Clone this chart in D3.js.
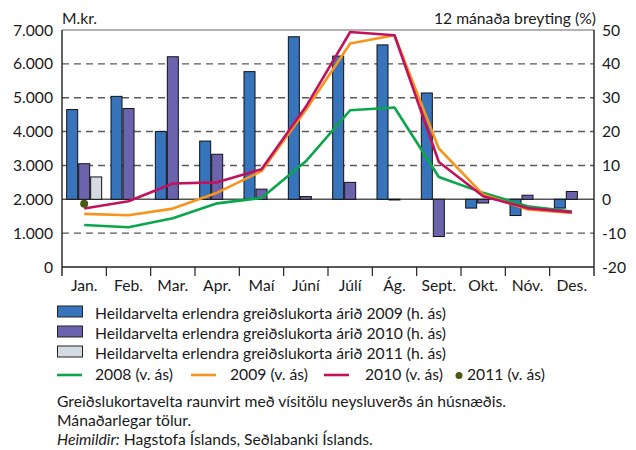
<!DOCTYPE html>
<html>
<head>
<meta charset="utf-8">
<script src="https://cdnjs.cloudflare.com/ajax/libs/d3/7.8.5/d3.min.js"></script>
<style>
  body { margin: 0; background: #fff; }
  svg text { font-family: Lato, "Open Sans", sans-serif; fill: #1a1a1a; font-size: 15.7px; }
</style>
</head>
<body>
<svg id="chart" width="636" height="450"></svg>
<script>
// DATA
const months = ["Jan.", "Feb.", "Mar.", "Apr.", "Maí", "Júní", "Júlí", "Ág.", "Sept.", "Okt.", "Nóv.", "Des."];

// bars: 12 mánaða breyting (%), right axis
const cards2009 = [26.5, 30.4, 20.0, 17.2, 37.7, 48.0, 42.3, 45.6, 31.4, -2.6, -4.8, -2.6];
const cards2010 = [10.5, 26.8, 42.1, 13.3, 3.0, 0.8, 5.0, -0.2, -11.0, -1.1, 1.2, 2.3];
const cards2011 = [6.6];

// lines: M.kr., left axis
const turnover2008 = [1240, 1175, 1440, 1880, 2040, 3120, 4630, 4710, 2660, 2190, 1795, 1640];
const turnover2009 = [1570, 1530, 1725, 2195, 2830, 4640, 6600, 6845, 3500, 2140, 1700, 1600];
const turnover2010 = [1730, 1940, 2465, 2500, 2890, 4730, 6940, 6845, 3100, 2090, 1740, 1620];
const turnover2011 = [1870];

const leftTicks = [0, 1000, 2000, 3000, 4000, 5000, 6000, 7000];
const rightTicks = [-20, -10, 0, 10, 20, 30, 40, 50];

// DIMENSIONS
const LEFT = 62, RIGHT = 594, TOP = 30, BOTTOM = 267;

const COLORS = {
  b2009: "#3874bb", b2010: "#6b64ad", b2011: "#d4dae2",
  l2008: "#0aa64c", l2009: "#f7941d", l2010: "#c0135d", d2011: "#4a5914"
};

const svg = d3.select("#chart");

// SCALES
const x = d3.scaleBand().domain(months).range([LEFT, RIGHT]);
const sub = d3.scaleBand().domain(["2009", "2010", "2011"])
  .range([0, x.bandwidth()]).paddingInner(0.083).paddingOuter(0.39);
const yLeft = d3.scaleLinear().domain([0, 7000]).range([BOTTOM, TOP]);
const yRight = d3.scaleLinear().domain([-20, 50]).range([BOTTOM, TOP]);

const fmt = d3.formatLocale({decimal: ",", thousands: ".", grouping: [3], currency: ["", ""]}).format(",");

// grid
svg.append("g")
  .selectAll("line")
  .data(leftTicks.filter(d => d > 0 && d < 7000 && d !== 2000))
  .join("line")
  .attr("x1", LEFT).attr("x2", RIGHT)
  .attr("y1", d => yLeft(d)).attr("y2", d => yLeft(d))
  .attr("stroke", "#5a5a5a").attr("stroke-width", 1.4)
  .attr("stroke-dasharray", "7,5");

// zero line (0 % / 2.000)
svg.append("line")
  .attr("x1", LEFT).attr("x2", RIGHT)
  .attr("y1", yRight(0)).attr("y2", yRight(0))
  .attr("stroke", "#555").attr("stroke-width", 1.4);

// top frame
svg.append("line")
  .attr("x1", LEFT).attr("x2", RIGHT)
  .attr("y1", TOP).attr("y2", TOP)
  .attr("stroke", "#666").attr("stroke-width", 1.2);

// BARS
const barSeries = [
  {key: "2009", values: cards2009, color: COLORS.b2009},
  {key: "2010", values: cards2010, color: COLORS.b2010},
  {key: "2011", values: cards2011, color: COLORS.b2011}
];

barSeries.forEach(s => {
  svg.append("g")
    .selectAll("rect")
    .data(s.values.map((v, i) => ({month: months[i], v})))
    .join("rect")
    .attr("x", d => x(d.month) + sub(s.key))
    .attr("width", sub.bandwidth())
    .attr("y", d => yRight(Math.max(0, d.v)))
    .attr("height", d => Math.abs(yRight(d.v) - yRight(0)))
    .attr("fill", s.color)
    .attr("stroke", "#111").attr("stroke-width", 1);
});

// LINES
const lineGen = d3.line()
  .x((d, i) => x(months[i]) + x.bandwidth() / 2)
  .y(d => yLeft(d));

[
  {values: turnover2008, color: COLORS.l2008},
  {values: turnover2009, color: COLORS.l2009},
  {values: turnover2010, color: COLORS.l2010}
].forEach(s => {
  svg.append("path")
    .attr("d", lineGen(s.values))
    .attr("fill", "none")
    .attr("stroke", s.color)
    .attr("stroke-width", 2.6)
    .attr("stroke-linejoin", "round");
});

svg.append("g")
  .selectAll("circle")
  .data(turnover2011)
  .join("circle")
  .attr("cx", (d, i) => x(months[i]) + x.bandwidth() / 2)
  .attr("cy", d => yLeft(d))
  .attr("r", 4)
  .attr("fill", COLORS.d2011);

// AXES
const axisColor = "#222";
svg.append("line").attr("x1", LEFT).attr("x2", LEFT).attr("y1", TOP).attr("y2", BOTTOM + 9)
  .attr("stroke", axisColor).attr("stroke-width", 1.4);
svg.append("line").attr("x1", RIGHT).attr("x2", RIGHT).attr("y1", TOP).attr("y2", BOTTOM + 9)
  .attr("stroke", axisColor).attr("stroke-width", 1.4);
svg.append("line").attr("x1", LEFT).attr("x2", RIGHT).attr("y1", BOTTOM).attr("y2", BOTTOM)
  .attr("stroke", axisColor).attr("stroke-width", 1.4);

svg.append("g")
  .selectAll("line")
  .data(months.slice(1))
  .join("line")
  .attr("x1", d => x(d)).attr("x2", d => x(d))
  .attr("y1", BOTTOM).attr("y2", BOTTOM + 9)
  .attr("stroke", axisColor).attr("stroke-width", 1.2);

svg.append("g")
  .selectAll("text")
  .data(months)
  .join("text")
  .attr("x", d => x(d) + x.bandwidth() / 2)
  .attr("y", 291)
  .attr("text-anchor", "middle")
  .text(d => d);

svg.append("g")
  .selectAll("text")
  .data(leftTicks)
  .join("text")
  .attr("x", 53)
  .attr("y", d => yLeft(d) + 5.5)
  .attr("text-anchor", "end")
  .text(d => fmt(d));

svg.append("g")
  .selectAll("text")
  .data(rightTicks)
  .join("text")
  .attr("x", 602)
  .attr("y", d => yRight(d) + 5.5)
  .text(d => d);

svg.append("text").attr("x", 62).attr("y", 24).text("M.kr.");
svg.append("text").attr("x", 596).attr("y", 24).attr("text-anchor", "end")
  .text("12 mánaða breyting (%)");

// LEGEND
const legendBars = [
  {label: "Heildarvelta erlendra greiðslukorta árið 2009 (h. ás)", color: COLORS.b2009},
  {label: "Heildarvelta erlendra greiðslukorta árið 2010 (h. ás)", color: COLORS.b2010},
  {label: "Heildarvelta erlendra greiðslukorta árið 2011 (h. ás)", color: COLORS.b2011}
];
const lg = svg.append("g");
legendBars.forEach((d, i) => {
  lg.append("rect").attr("x", 57.5).attr("y", 306 + i * 20).attr("width", 25).attr("height", 11)
    .attr("fill", d.color).attr("stroke", "#222").attr("stroke-width", 1);
  lg.append("text").attr("x", 95).attr("y", 319 + i * 20).text(d.label);
});

const legendLines = [
  {label: "2008 (v. ás)", color: COLORS.l2008, x0: 57, tx: 95},
  {label: "2009 (v. ás)", color: COLORS.l2009, x0: 191, tx: 230},
  {label: "2010 (v. ás)", color: COLORS.l2010, x0: 324, tx: 365}
];
legendLines.forEach(d => {
  lg.append("line").attr("x1", d.x0).attr("x2", d.x0 + 25).attr("y1", 375).attr("y2", 375)
    .attr("stroke", d.color).attr("stroke-width", 2.6);
  lg.append("text").attr("x", d.tx).attr("y", 380).text(d.label);
});
lg.append("circle").attr("cx", 459).attr("cy", 375.5).attr("r", 3.5).attr("fill", COLORS.d2011);
lg.append("text").attr("x", 467).attr("y", 380).text("2011 (v. ás)");

// NOTES
svg.append("text").attr("x", 57).attr("y", 407)
  .text("Greiðslukortavelta raunvirt með vísitölu neysluverðs án húsnæðis.");
svg.append("text").attr("x", 57).attr("y", 426)
  .text("Mánaðarlegar tölur.");
const src = svg.append("text").attr("x", 57).attr("y", 445);
src.append("tspan").style("font-style", "italic").text("Heimildir:");
src.append("tspan").text(" Hagstofa Íslands, Seðlabanki Íslands.");
</script>
</body>
</html>
